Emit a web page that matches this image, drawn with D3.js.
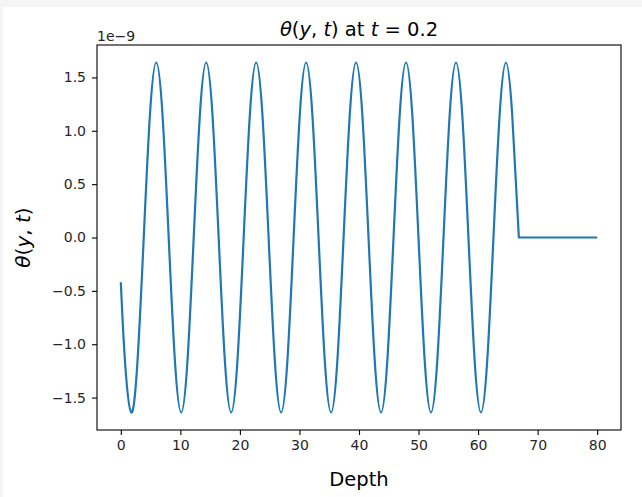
<!DOCTYPE html>
<html>
<head>
<meta charset="utf-8">
<title>theta(y,t) at t = 0.2</title>
<script src="https://cdnjs.cloudflare.com/ajax/libs/d3/7.8.5/d3.min.js"></script>
<style>
  body { margin: 0; background: #fff; }
  svg { display: block; font-family: "DejaVu Sans", sans-serif; }
</style>
</head>
<body>
<div id="chart"></div>
<script>
// values (theta in units of 1e-9)
var depth = [0, 0.70,
  1.75, 2.80, 3.85, 4.90, 5.95, 6.99, 8.04, 9.09,
  10.14, 11.19, 12.24, 13.29, 14.34, 15.38, 16.43, 17.48,
  18.53, 19.58, 20.63, 21.68, 22.73, 23.77, 24.82, 25.87,
  26.92, 27.97, 29.02, 30.07, 31.12, 32.16, 33.21, 34.26,
  35.31, 36.36, 37.41, 38.46, 39.51, 40.55, 41.60, 42.65,
  43.70, 44.75, 45.80, 46.85, 47.90, 48.94, 49.99, 51.04,
  52.09, 53.14, 54.19, 55.24, 56.29, 57.33, 58.38, 59.43,
  60.48, 61.53, 62.58, 63.63, 64.68, 65.72, 66.85];
var theta = [-0.42, -1.16,
  -1.64, -1.16, 0, 1.16, 1.64, 1.16, 0, -1.16,
  -1.64, -1.16, 0, 1.16, 1.64, 1.16, 0, -1.16,
  -1.64, -1.16, 0, 1.16, 1.64, 1.16, 0, -1.16,
  -1.64, -1.16, 0, 1.16, 1.64, 1.16, 0, -1.16,
  -1.64, -1.16, 0, 1.16, 1.64, 1.16, 0, -1.16,
  -1.64, -1.16, 0, 1.16, 1.64, 1.16, 0, -1.16,
  -1.64, -1.16, 0, 1.16, 1.64, 1.16, 0, -1.16,
  -1.64, -1.16, 0, 1.16, 1.64, 1.16, 0];
// beyond the front the profile stays flat at zero
var tailDepth = [66.85, 80];
var tailTheta = [0, 0];

var xTicks = [0, 10, 20, 30, 40, 50, 60, 70, 80];
var yTicks = [-1.5, -1.0, -0.5, 0.0, 0.5, 1.0, 1.5];

var W = 642, H = 497;
var mLeft = 97, mRight = 621, mTop = 45, mBottom = 430;

var svg = d3.select("#chart").append("svg")
    .attr("width", W).attr("height", H);

// light frame of the notebook output
svg.append("rect").attr("width", W).attr("height", 7).attr("fill", "#f5f5f5");
svg.append("rect").attr("width", 3).attr("height", H).attr("fill", "#f5f5f5");

var x = d3.scaleLinear().domain([-4, 84]).range([mLeft, mRight]);
var y = d3.scaleLinear().domain([-1.804, 1.804]).range([mBottom, mTop]);

var line = d3.line()
    .x(function(d) { return x(d[0]); })
    .y(function(d) { return y(d[1]); });

var wave = d3.zip(depth, theta);
var tail = d3.zip(tailDepth, tailTheta);

svg.append("path")
    .attr("d", line.curve(d3.curveNatural)(wave) + line.curve(d3.curveLinear)(tail).replace(/^M/, "L"))
    .attr("fill", "none").attr("stroke", "#1f77b4")
    .attr("stroke-width", 2.2).attr("stroke-linejoin", "round");

var xAxis = svg.append("g")
    .attr("transform", "translate(0," + mBottom + ")")
    .call(d3.axisBottom(x).tickValues(xTicks).tickSize(5).tickPadding(5)
      .tickFormat(d3.format("d")));
var yAxis = svg.append("g")
    .attr("transform", "translate(" + mLeft + ",0)")
    .call(d3.axisLeft(y).tickValues(yTicks).tickSize(5).tickPadding(6)
      .tickFormat(function(d) { return d3.format(".1f")(d).replace("-", "\u2212"); }));

[xAxis, yAxis].forEach(function(g) {
  g.select(".domain").remove();
  g.selectAll("line").attr("stroke", "#000").attr("stroke-width", 1.1);
  g.selectAll("text").attr("fill", "#262626")
    .style("font-family", "DejaVu Sans").style("font-size", "14px");
});

// frame
svg.append("rect")
    .attr("x", mLeft).attr("y", mTop)
    .attr("width", mRight - mLeft).attr("height", mBottom - mTop)
    .attr("fill", "none").attr("stroke", "#000").attr("stroke-width", 1.1);

// offset text
svg.append("text").attr("x", mLeft).attr("y", 41)
    .style("font-size", "14px").attr("fill", "#262626")
    .text("1e\u22129");

// title
var title = svg.append("text")
    .attr("x", (mLeft + mRight) / 2).attr("y", 36)
    .attr("text-anchor", "middle")
    .style("font-size", "19.5px").attr("fill", "#000");
title.append("tspan").style("font-style", "italic").text("\u03b8");
title.append("tspan").text("(");
title.append("tspan").style("font-style", "italic").text("y");
title.append("tspan").text(", ");
title.append("tspan").style("font-style", "italic").text("t");
title.append("tspan").text(") at ");
title.append("tspan").style("font-style", "italic").text("t");
title.append("tspan").text(" = 0.2");

// x label
svg.append("text")
    .attr("x", (mLeft + mRight) / 2).attr("y", 486)
    .attr("text-anchor", "middle")
    .style("font-size", "19.5px").attr("fill", "#000")
    .text("Depth");

// y label
var ylab = svg.append("text")
    .attr("transform", "translate(30," + ((mTop + mBottom) / 2) + ") rotate(-90)")
    .attr("text-anchor", "middle")
    .style("font-size", "20px").attr("fill", "#000");
ylab.append("tspan").style("font-style", "italic").text("\u03b8");
ylab.append("tspan").text("(");
ylab.append("tspan").style("font-style", "italic").text("y");
ylab.append("tspan").text(", ");
ylab.append("tspan").style("font-style", "italic").text("t");
ylab.append("tspan").text(")");
</script>
</body>
</html>
